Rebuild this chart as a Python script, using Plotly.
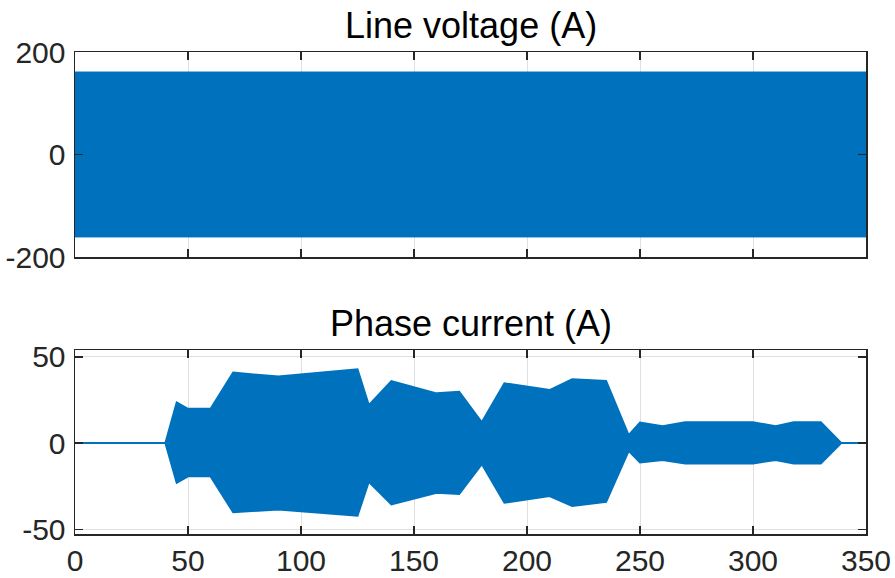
import plotly.graph_objects as go

# ---- data ----
volt_t = [0, 350]
volt_upper = [161, 161]
volt_lower = [-160, -160]

cur_t = [0, 40, 45, 50, 60, 70, 90, 125, 130, 140, 160, 170, 180, 190, 210, 220, 235,
         245, 250, 260, 270, 300, 310, 318, 330, 339, 350]
cur_upper = [0, 0, 23.5, 19.8, 19.8, 40.8, 38.5, 42.7, 22, 35.9, 28.8, 29.7, 12, 34.6, 30.7,
             36.9, 36, 4.5, 11.8, 9.8, 12, 12, 9.8, 12, 12, 0, 0]
cur_lower = [0, 0, -23, -19.3, -19.3, -40.1, -38.5, -42.1, -22.4, -35.5, -28.8, -29.5, -12.2,
             -34.6, -30.7, -36.5, -34, -4.5, -11.2, -9.8, -11.8, -11.8, -9.8, -11.8, -11.8, 0, 0]

x_ticks = [0, 50, 100, 150, 200, 250, 300, 350]
x_labels = ["0", "50", "100", "150", "200", "250", "300", "350"]
volt_ticks = [-200, 0, 200]
volt_labels = ["-200", "0", "200"]
cur_ticks = [-50, 0, 50]
cur_labels = ["-50", "0", "50"]

titles = ["Line voltage (A)", "Phase current (A)"]

BLUE = "#0072BD"
AX = "#262626"
FONT = "Liberation Sans, Arial, sans-serif"

fig = go.Figure()

fig.add_trace(go.Scatter(
    x=volt_t + volt_t[::-1], y=volt_upper + volt_lower[::-1],
    fill="toself", fillcolor=BLUE, mode="lines",
    line=dict(color=BLUE, width=1), xaxis="x", yaxis="y", showlegend=False,
    hoverinfo="skip"))

fig.add_trace(go.Scatter(
    x=cur_t + cur_t[::-1], y=cur_upper + cur_lower[::-1],
    fill="toself", fillcolor=BLUE, mode="lines",
    line=dict(color=BLUE, width=2), xaxis="x2", yaxis="y2", showlegend=False,
    hoverinfo="skip"))

common_axis = dict(
    showline=True, linecolor=AX, linewidth=1.5, mirror="ticks",
    ticks="inside", ticklen=8, tickwidth=1.5, tickcolor=AX,
    showgrid=True, gridcolor="#e0e0e0", gridwidth=1, zeroline=False,
    automargin=False,
    tickfont=dict(family=FONT, size=30, color=AX),
)

fig.update_layout(
    width=895, height=578,
    margin=dict(l=75, r=29, t=52, b=44),
    paper_bgcolor="white", plot_bgcolor="white",
    font=dict(family=FONT, color=AX),
    hovermode=False,
    xaxis=dict(common_axis, domain=[0, 1], range=[0, 350], tickvals=x_ticks,
               showticklabels=False, anchor="y"),
    yaxis=dict(common_axis, domain=[0.5737, 1], range=[-200, 200], tickvals=volt_ticks,
               ticktext=volt_labels, ticklabelstandoff=2, anchor="x"),
    xaxis2=dict(common_axis, domain=[0, 1], range=[0, 350], tickvals=x_ticks,
                ticktext=x_labels, anchor="y2", ticklabelstandoff=-1),
    yaxis2=dict(common_axis, domain=[0, 0.3817], range=[-52.7, 53.9], tickvals=cur_ticks,
                ticktext=cur_labels, ticklabelstandoff=2, anchor="x2"),
    annotations=[
        dict(text=titles[0], x=0.5, y=1.055, xref="paper", yref="paper",
             xanchor="center", yanchor="middle", showarrow=False,
             font=dict(family=FONT, size=36, color="black")),
        dict(text=titles[1], x=0.5, y=0.436, xref="paper", yref="paper",
             xanchor="center", yanchor="middle", showarrow=False,
             font=dict(family=FONT, size=36, color="black")),
    ],
)

fig.write_html(
    "out.html",
    config={"displayModeBar": False, "staticPlot": True},
    post_script="document.body.style.margin='0';document.body.style.overflow='hidden';",
)
